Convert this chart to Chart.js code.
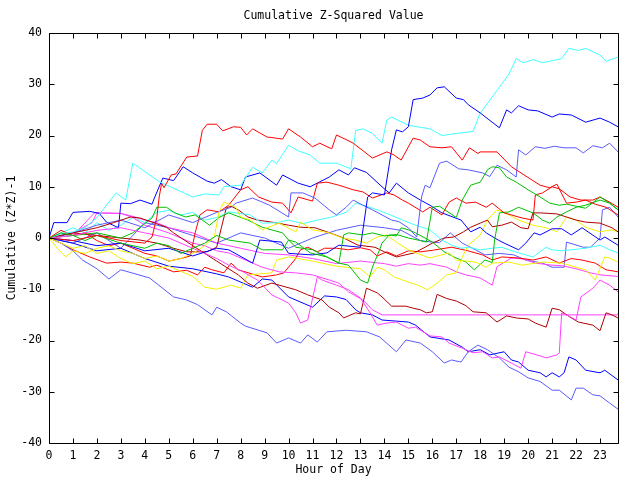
<!DOCTYPE html>
<html>
<head>
<meta charset="utf-8">
<title>Cumulative Z-Squared Value</title>
<script src="https://cdn.jsdelivr.net/npm/chart.js@4/dist/chart.umd.min.js"></script>
<style>
  html, body { margin: 0; padding: 0; background: #fff; }
  #wrap { width: 640px; height: 480px; }
</style>
</head>
<body>
<div id="wrap"><canvas id="chart" width="640" height="480"></canvas></div>
<script>
// Ejes
const hourTicks = [0,1,2,3,4,5,6,7,8,9,10,11,12,13,14,15,16,17,18,19,20,21,22,23];
const valueTicks = [-40,-30,-20,-10,0,10,20,30,40];

// Series: [hora, valor acumulado]
const cyanA = [[0,0],[0.5,0.8],[1,1.2],[1.5,2],[2,4],[2.8,8.8],[3.2,7.4],[3.5,14.6],[4.6,11],[5.3,9.5],[6,8],[6.5,8.6],[7.1,8.4],[7.3,10],[8,10.3],[8.5,13.8],[8.9,12.7],[9.3,15.2],[9.5,14.5],[10,18.1],[10.4,17],[10.9,16.2],[11.3,14.6],[12,14.6],[12.6,13.5],[12.8,21],[13.1,21.3],[13.5,20.4],[13.9,18.5],[14.1,23],[14.3,23.6],[15,22],[15.5,21.6],[15.9,21.3],[16.4,20],[17,20.4],[17.7,20.8],[18,24.4],[18.5,27.5],[19.2,32],[19.5,35],[19.8,34.2],[20.2,34.8],[20.6,34.2],[21,34.6],[21.4,35],[21.7,37],[22.1,36.6],[22.4,37],[23,35.7],[23.25,34.5],[23.75,35.3]];
const blueB = [[0,0],[1,-0.5],[2,-1.5],[3,-1],[4,-2.5],[5,-2],[6,-3.5],[7,-2],[7.5,-2.3],[8.5,-4.9],[8.8,-0.4],[9.7,-0.8],[10,-3],[11,-3.3],[11.6,-2.9],[12.1,-1.4],[13,-1.8],[13.3,8],[13.5,8.8],[14,8.4],[14.3,17.2],[14.5,21.1],[14.75,20.7],[15,21.7],[15.2,27],[15.6,27.3],[15.9,27.9],[16.2,29.3],[16.5,29.5],[17,27.3],[17.3,27],[17.5,26],[18,24.4],[18.8,21.5],[19.1,25],[19.3,24.4],[19.6,25.8],[20,25],[20.4,24.8],[21,23.6],[21.3,24.2],[21.8,24],[22.4,22.6],[23,23.4],[23.4,22.6],[23.75,21.7]];
const redC = [[0,0],[1,-0.5],[2,0.5],[3,-0.5],[4,-1],[4.3,0.2],[4.5,4],[4.6,8],[4.7,10.7],[4.8,9.8],[5.1,12.3],[5.3,12.5],[5.75,15.8],[6.2,16],[6.4,21],[6.6,22.2],[7,22.2],[7.25,20.9],[7.7,21.7],[8,21.6],[8.25,20.1],[8.5,21.3],[9.1,19.7],[9.3,19.6],[9.75,19.3],[10,21.3],[10.5,19.7],[11,17.8],[11.3,18.5],[11.8,17.4],[12,20.1],[12.4,19.2],[12.7,18.5],[13.5,15.6],[14.1,16.8],[14.4,16.2],[14.7,15.2],[15.2,19.5],[15.5,19.1],[15.9,17.8],[16.4,17.6],[16.8,17.8],[17.25,15.2],[17.55,17.6],[17.9,16.5],[18,16.8],[18.7,16.8],[19.3,13.9],[20.5,10.3],[20.9,9.8],[21.2,10.5],[21.6,6.8],[22,7],[22.4,7.4],[22.8,6.6],[23.25,6],[23.75,4.5]];
const blueD = [[0,0],[0.2,3],[0.75,3],[1,5],[1.7,5.2],[2.1,4.8],[2.4,3.1],[2.9,2],[3,6.8],[3.4,6.7],[3.8,7.4],[4.3,6.6],[4.4,7.8],[4.75,11.7],[5.2,11.2],[5.6,13.9],[6,12.7],[6.6,11.1],[6.9,10.7],[7.2,11.4],[7.6,10],[8,9.4],[8.2,11.9],[8.8,12.7],[9.5,10.3],[9.75,12.3],[10.4,10.7],[10.9,10],[11.7,11.9],[12.1,13.3],[12.5,12.3],[12.75,13.7],[13.25,12.8],[13.9,10],[14.2,8.8],[14.5,10.7],[15,8.8],[15.5,7.4],[15.9,6.4],[16.4,4.9],[17.2,3.5],[17.6,1.2],[18,2.1],[18.25,1],[18.75,-0.4],[19,-1],[19.6,-2.3],[19.9,-1],[20.25,1],[20.5,0.6],[21,1.8],[21.4,1.8],[21.8,0.6],[22.25,2],[23,-0.4],[23.2,0.2],[23.75,-1.4]];
const slateE = [[0,0],[1,1],[2,2.5],[3,3.5],[4,2],[5,4.5],[6,3],[7,5],[7.6,6],[7.8,6.8],[8.5,7.8],[9.2,6.4],[10,4.1],[10.1,8.8],[10.6,8.8],[11.1,7.8],[11.7,5.5],[12,4.5],[12.4,6],[12.7,7.4],[13.1,6.4],[13.5,5.5],[13.9,4.5],[14.3,3.5],[14.6,3.2],[15,2],[15.35,0.2],[15.55,8],[15.7,10.3],[15.9,9.8],[16.3,14.6],[16.6,15],[17.1,13.5],[17.5,13.3],[18.1,12.7],[18.4,12],[18.7,14.2],[19.1,13.3],[19.5,11.9],[19.6,17.2],[19.9,16.2],[20.3,17.8],[20.7,17.5],[21.1,17.9],[21.5,17.6],[22,17.6],[22.3,16.6],[22.7,18],[23.1,17.6],[23.4,18.5],[23.75,16.8]];
const slateF = [[0,0],[0.5,-1],[1,-2.5],[1.4,-4.3],[2,-6],[2.5,-8],[3,-6.2],[4.2,-7.8],[5.2,-11.5],[5.75,-12.1],[6.2,-13],[6.8,-15],[7,-13.5],[7.4,-14.4],[8,-16.6],[8.2,-17.2],[9.1,-18.5],[9.5,-20.5],[10,-19.5],[10.5,-20.5],[10.8,-18.9],[11.2,-20.3],[11.6,-18.3],[12.4,-18],[13.25,-18.3],[13.8,-19.3],[14.5,-22.2],[14.9,-19.9],[15.5,-20.5],[16,-22.2],[16.5,-24.4],[16.8,-23.8],[17.2,-24.2],[17.5,-22.2],[17.9,-20.9],[18.3,-21.8],[18.8,-23.4],[19.2,-25.2],[19.6,-26.1],[20,-27.3],[20.5,-28],[21,-29.7],[21.3,-29.7],[21.8,-31.6],[22,-29.3],[22.3,-29.3],[22.7,-30.6],[23,-30.8],[23.4,-32.2],[23.75,-33.4]];
const blueG = [[0,0],[1,-1],[2,-2.5],[3,-2],[4,-4],[5,-5.5],[6,-6],[7,-7],[7.5,-7.6],[8.5,-9.6],[8.9,-8],[9.3,-8.2],[10,-11.5],[11,-13.5],[11.5,-11.3],[12,-11.5],[12.4,-12],[12.8,-14],[13,-14.6],[13.5,-15],[13.9,-16],[15,-16.4],[15.3,-17],[15.9,-19.3],[16.7,-19.9],[17.25,-21.3],[17.5,-22.2],[18,-21.8],[18.4,-22.8],[19,-22.2],[19.3,-23.8],[19.6,-24.2],[20,-25.8],[20.5,-26.3],[20.75,-27.1],[21,-26.3],[21.3,-27.1],[21.5,-26.3],[21.7,-23.2],[22,-23.8],[22.4,-25.8],[23,-26.3],[23.2,-25.8],[23.75,-27.7]];
const magentaH = [[0,0],[1,0.5],[2,1.5],[3,2],[4,1],[5,0],[6,-2],[7,-4],[7.5,-5.3],[8.1,-6.6],[8.7,-8.2],[9.3,-11.1],[10,-12.7],[10.3,-14.6],[10.5,-16.6],[10.8,-16],[11.2,-7.6],[11.4,-8.2],[12,-9.2],[12.5,-10.1],[13,-11.7],[13.4,-14.6],[13.7,-17],[14.1,-16.6],[14.5,-16.4],[15,-17.6],[15.3,-17.4],[15.9,-19.1],[16.4,-19.3],[16.7,-20.5],[17.25,-21.5],[17.7,-22.4],[18.1,-22.2],[18.5,-23.4],[18.8,-23.2],[19.3,-24.4],[19.7,-25.4],[19.9,-22.2],[20.5,-23],[20.75,-23.4],[21.2,-22.8],[21.3,-22.4],[21.4,-14.6],[21.6,-15],[22,-16],[22.2,-11.5],[22.7,-9.8],[23,-8.2],[23.4,-9.2],[23.75,-10.5]];
const magentaI = [[0,0],[1,1],[1.8,3],[2,4.9],[3,4.8],[3.5,4],[4,2.5],[5,1],[6,-1],[6.5,-1.5],[7,-2.5],[7.5,-2.9],[8.9,-5.7],[9.6,-6.6],[10.3,-6.8],[11,-7.2],[11.7,-8.2],[12.1,-8.8],[12.5,-10.5],[13.1,-12.1],[13.5,-14],[13.9,-15],[15,-15],[16,-15],[17,-15],[18,-15],[19,-15],[20,-15],[21,-15],[22,-15],[23,-15],[23.75,-15]];
const darkredJ = [[0,0],[1,1],[2,2],[2.7,3],[3.4,4.1],[3.8,3.9],[4.3,3.1],[4.9,2.1],[5.2,1],[6,-1.5],[7,-4.5],[7.9,-7.2],[8.3,-8.8],[8.7,-9.8],[9.3,-8.8],[10.3,-10.1],[10.8,-11.1],[11.4,-12.1],[11.7,-13.5],[12.1,-14.6],[12.3,-15.6],[12.8,-14.6],[13,-14.8],[13.25,-9.8],[13.7,-10.7],[13.9,-11.5],[14.3,-13.3],[14.9,-13.3],[15.2,-13.7],[15.5,-14],[15.75,-14.6],[16,-14.4],[16.2,-11],[16.6,-11.8],[17,-12.3],[17.4,-13.2],[17.7,-14.4],[18.25,-14.6],[18.7,-16.4],[19.1,-15.2],[19.5,-15.6],[20,-15.8],[20.3,-16.6],[20.75,-17.4],[21,-13.7],[21.3,-14],[21.8,-15.6],[22.1,-16.4],[22.7,-17],[23,-18.1],[23.25,-14.6],[23.5,-15],[23.75,-15.6]];
const darkred2 = [[0,0],[1,1],[2,0.5],[3,0],[3.8,-0.4],[4.5,-1],[5.2,-2],[5.75,-2.7],[6.6,-2.7],[7,-1.8],[7.2,2.1],[7.4,5.9],[7.6,6.2],[7.9,5.5],[8.3,4.1],[8.7,3.5],[9.3,3.1],[10,2.5],[10.5,2.1],[11.1,2],[11.6,1.2],[12.3,0],[12.9,-1.4],[13.6,-1.8],[14,-2.7],[14.5,-3.7],[15.25,-2.9],[15.7,-1.8],[16,-1],[16.5,0],[16.9,0.2],[17.3,1.2],[17.6,2.1],[18,2.9],[18.3,3.5],[18.5,2.2],[18.9,2.5],[19.3,3.1],[19.7,2],[20,1.8],[20.2,4.9],[20.5,4.9],[21.2,4.7],[21.6,4.1],[22,3.5],[22.4,3.1],[23,2.9],[23.5,2],[23.75,1.2]];
const yellowY1 = [[0,0],[0.4,-2.3],[0.7,-3.7],[1,-2.5],[1.5,-3],[2,-2],[2.5,-1.5],[3,-2.5],[3.5,-3],[4,-4],[4.5,-3.5],[5,-4.5],[5.5,-4],[6,-3],[6.5,-1.5],[6.9,0.2],[7.1,5.1],[7.3,7],[7.8,6],[8,4.1],[8.4,3.5],[8.9,1.6],[9.6,2.9],[10.3,1.2],[10.5,3.1],[11,1.6],[11.7,1],[12.25,0],[12.8,-0.4],[13.25,-1],[13.7,0.2],[14.1,0.6],[14.5,-0.8],[15,-2.3],[15.3,-2.9],[15.9,-3.9],[16.7,-2.9],[17,-4.3],[17.8,-4.7],[18.25,-5.7],[18.5,-4.9],[19.2,-4.7],[19.75,-5.3],[20.6,-4.7],[21.4,-4.9],[22,-5.7],[22.4,-6.2],[22.8,-8.2],[23.2,-3.7],[23.4,-3.9],[23.75,-4.7]];
const yellowY2 = [[0,0],[0.5,-1],[1,-2],[1.5,-1.5],[2,-3],[2.5,-2.5],[3,-4],[3.5,-5],[4,-4.5],[4.5,-6],[5,-5.5],[5.5,-6.5],[6,-7.5],[6.5,-9.6],[7,-10],[7.6,-9.2],[8,-9.8],[8.3,-7.2],[9.3,-6.8],[9.5,-4.3],[10,-3.7],[11,-4.5],[12,-5.5],[13,-6],[13.4,-7.6],[13.7,-5.7],[14,-6.2],[14.4,-7.6],[15,-8.6],[15.4,-9.2],[15.8,-10.1],[16.2,-8.8],[16.6,-7.2],[17,-6.8],[17.25,-3.7],[17.5,-1.4],[18,0.6],[18.3,3.5],[18.7,5.5],[19.2,4.5],[19.6,3.5],[20.2,2.5],[20.75,2],[21.2,1.2],[21.6,4.1],[22,3.5],[22.4,2.1],[23,1.2],[23.5,1.6],[23.75,1.2]];
const redK = [[0,0],[0.5,1.5],[1,0.5],[1.5,1],[2,-0.5],[2.5,-1.5],[3,-1],[3.5,-2],[4,-3],[4.5,-3.5],[5,-4.5],[5.5,-4],[5.9,-3.5],[6.1,1],[6.3,4.5],[6.6,5.5],[7.1,5.1],[7.5,6.4],[8,9.4],[8.3,10],[8.75,8],[9.3,7],[9.75,6.8],[10.1,4.9],[10.4,8],[11,7.2],[11.2,10.7],[11.6,10.9],[12.1,10.3],[12.7,9.4],[13.1,9],[13.5,7.8],[14.1,8.8],[14.4,8.4],[14.75,7.4],[15,6.8],[15.6,5.1],[15.9,6],[16.4,4.5],[16.7,7],[17,7.8],[17.4,6.8],[17.8,7],[18.25,6],[18.5,6.8],[19,4.9],[19.3,4.5],[19.75,3.9],[20.2,3.5],[20.3,8.4],[20.6,8.8],[21,10],[21.3,9.6],[21.75,8],[22.2,7.4],[22.7,7.4],[23,8],[23.4,7],[23.75,6]];
const red3 = [[0,0],[0.5,-1],[1,-2.3],[1.7,-3.7],[2.4,-4.9],[3,-4.7],[3.5,-4.9],[4.2,-5.7],[4.5,-5.3],[5.2,-6.6],[5.75,-6.3],[6.2,-7.2],[6.5,-5.7],[6.8,-6.2],[7.3,-6.8],[7.6,-4.9],[7.9,-6.2],[8.6,-7.2],[8.9,-7.6],[9.5,-7.2],[9.8,-6.8],[10.25,-4.3],[10.5,-2.3],[10.8,-1.8],[11.2,-2.7],[11.5,-2],[12,-2],[12.5,-2.3],[13,-1.9],[13.4,-2.3],[13.7,-3.5],[14.1,-2.7],[14.5,-3.5],[15,-2.5],[15.5,-2.7],[16,-2.4],[16.8,-1.8],[17.4,-2.4],[18.1,-3.3],[18.5,-4.3],[18.9,-3.7],[19.6,-3.9],[20.2,-4.3],[20.75,-3.7],[21.3,-4.9],[21.8,-4],[22.25,-4.3],[22.8,-4.9],[23.25,-6.2],[23.75,-6.6]];
const greenL = [[0,0],[0.5,1],[1,0.5],[1.5,-0.5],[2,0.5],[3,-1],[4,-2],[4.5,-1],[5,-1.5],[5.5,-3],[6,-2],[6.5,-1],[7,0.5],[7.5,-0.4],[8.4,-1],[8.9,-2.3],[9.75,-2.3],[10,-0.4],[10.3,-0.8],[10.9,-2.9],[11.6,-3.7],[12.1,-4.9],[12.3,0.6],[12.5,1],[13.1,0.6],[13.5,1],[14,0.4],[14.5,0.7],[15,0],[15.5,-0.5],[15.75,-0.8],[16,6],[16.3,6.2],[17,4],[17.25,7.4],[17.6,10.3],[18,10.9],[18.3,13.3],[18.5,13.9],[18.8,13.7],[19.1,11.9],[19.5,10.9],[20,9.4],[20.5,8],[20.9,6.8],[21.3,6.4],[21.6,6.6],[22,6.2],[22.4,5.8],[23,8],[23.4,6.8],[23.75,5.5]];
const greenM = [[0,0],[1,0.5],[2,1],[3,0],[3.5,1],[4.3,3.9],[4.5,6],[4.9,6],[5.25,4.9],[5.7,4.1],[6.1,4.5],[6.7,2.5],[7.1,4],[7.5,4.9],[8.3,3.5],[8.9,2.1],[9.75,1],[10,-0.4],[10.3,-1.8],[11,-2.3],[11.6,-3.7],[12.1,-4.9],[12.5,-5.3],[13,-8.2],[13.3,-8.8],[13.5,-5.7],[13.8,-2.3],[13.9,-1],[14.2,0.6],[14.5,0.4],[14.7,2],[15,1.6],[15.3,1],[16,-0.8],[16.5,-2.7],[16.9,-3.7],[17.4,-4.7],[17.75,-6.2],[18.2,-4.3],[18.5,-4.8],[18.6,-0.4],[18.8,4.9],[19.2,5.1],[19.6,6],[20.2,4.9],[20.6,3.5],[20.9,2.9],[21.2,4.1],[21.6,5.1],[22,6],[22.4,6.4],[23,7.4],[23.4,6.8],[23.75,5.5]];
const cyanB = [[0,0],[0.5,1],[1,2],[1.5,1],[2,3],[2.5,1.5],[3,2.5],[3.5,4],[4,3],[4.5,5],[5,5.4],[5.5,4.5],[6,5],[6.5,3.5],[7,4],[7.5,5.1],[8.4,4.5],[8.9,2.9],[9.5,3],[10,3.5],[10.6,2.8],[11.2,3.5],[11.8,4.1],[12.4,5],[12.8,6.8],[13.2,6.3],[13.7,5.5],[14.25,4.5],[14.75,3.5],[15.3,2.5],[15.9,1.6],[16.4,-0.4],[16.8,-1.4],[17.2,-2],[17.5,-1.8],[18,-2.3],[18.5,-2],[18.9,-1.8],[19.2,-2.3],[19.6,-2.9],[20.2,-3.7],[20.75,-1.8],[21,-2.3],[21.4,-2.5],[21.8,-2.3],[22.4,-2],[23,-1.4],[23.4,-2.3],[23.75,-2.9]];
const magentaM = [[0,0],[1,0.5],[1.9,4.9],[3,4.8],[3.6,4.1],[4,3.5],[4.5,3],[5,2],[6,1],[7,-1],[8,-2],[9,-3],[10,-3.3],[11,-4],[12,-5],[13,-4.5],[14,-5],[14.5,-5.5],[15,-5],[15.5,-5.3],[15.9,-5],[16.6,-5.7],[17,-6.6],[17.4,-7.2],[18,-7.8],[18.5,-9.2],[18.7,-5.6],[19.3,-3.9],[19.8,-4.1],[20.3,-4.9],[21,-5.3],[21.4,-5.4],[22,-6],[22.6,-6.8],[23,-7.2],[23.75,-7.5]];
const slateS = [[0,0],[1,-1],[2,1],[3,-2],[4,3],[5,2],[6,0.5],[7,-1],[8,1],[9,0],[10,-2],[11,0],[12,1.5],[13,2.5],[14,2],[14.7,1.5],[15.5,-0.5],[16,-0.8],[16.3,-0.9],[16.75,1],[17.25,-1],[17.8,-2.3],[18.2,-3.3],[18.8,-3],[19.4,-3.3],[19.9,-4.3],[20.6,-4.9],[21,-5.7],[21.5,-5.7],[21.6,-0.8],[22.3,-1.8],[22.6,-1.8],[23,0],[23.1,5.5],[23.4,6],[23.75,4.1]];

// Colores de las curvas (paleta de gnuplot)
const RED = '#ff0000';
const GREEN = '#00c000';
const BLUE = '#0000ff';
const MAGENTA = '#ff40ff';
const CYAN = '#40ffff';
const DARKRED = '#b00000';
const YELLOW = '#f0f000';
const SLATE = '#5a5aff';

const series = [
  { name: 'run 1', color: RED, points: redC },
  { name: 'run 2', color: GREEN, points: greenL },
  { name: 'run 3', color: BLUE, points: blueB },
  { name: 'run 4', color: MAGENTA, points: magentaH },
  { name: 'run 5', color: CYAN, points: cyanA },
  { name: 'run 6', color: DARKRED, points: darkredJ },
  { name: 'run 7', color: YELLOW, points: yellowY1 },
  { name: 'run 8', color: SLATE, points: slateE },
  { name: 'run 9', color: RED, points: redK },
  { name: 'run 10', color: GREEN, points: greenM },
  { name: 'run 11', color: BLUE, points: blueD },
  { name: 'run 12', color: MAGENTA, points: magentaI },
  { name: 'run 13', color: CYAN, points: cyanB },
  { name: 'run 14', color: DARKRED, points: darkred2 },
  { name: 'run 15', color: YELLOW, points: yellowY2 },
  { name: 'run 16', color: SLATE, points: slateF },
  { name: 'run 17', color: RED, points: red3 },
  { name: 'run 18', color: BLUE, points: blueG },
  { name: 'run 19', color: MAGENTA, points: magentaM },
  { name: 'run 20', color: SLATE, points: slateS }
];

const FONT = { family: '"DejaVu Sans Mono", monospace', size: 11.5, lineHeight: 1.2, weight: 'normal' };

// Marco negro con marcas hacia adentro en los cuatro lados
const framePlugin = {
  id: 'frame',
  afterDatasetsDraw(chart) {
    const { ctx, chartArea: a, scales: { x, y } } = chart;
    const L = Math.round(a.left) + 0.5, R = Math.round(a.right) + 0.5;
    const T = Math.round(a.top) + 0.5, B = Math.round(a.bottom) + 0.5;
    const len = 5;
    ctx.save();
    ctx.strokeStyle = '#000';
    ctx.lineWidth = 1;
    ctx.beginPath();
    ctx.rect(L, T, R - L, B - T);
    hourTicks.forEach(v => {
      const px = Math.round(x.getPixelForValue(v)) + 0.5;
      ctx.moveTo(px, B); ctx.lineTo(px, B - len);
      ctx.moveTo(px, T); ctx.lineTo(px, T + len);
    });
    valueTicks.forEach(v => {
      const py = Math.round(y.getPixelForValue(v)) + 0.5;
      ctx.moveTo(L, py); ctx.lineTo(L + len, py);
      ctx.moveTo(R, py); ctx.lineTo(R - len, py);
    });
    ctx.stroke();
    ctx.restore();
  }
};

new Chart(document.getElementById('chart'), {
  type: 'line',
  data: {
    datasets: series.map(s => ({
      label: s.name,
      data: s.points.map(([h, v]) => ({ x: h, y: v })),
      borderColor: s.color,
      backgroundColor: s.color,
      borderWidth: 1,
      pointRadius: 0,
      tension: 0,
      fill: false
    }))
  },
  options: {
    responsive: false,
    animation: false,
    layout: { padding: { left: 0, right: 22, top: 0, bottom: 0 } },
    plugins: {
      legend: { display: false },
      tooltip: { enabled: false },
      title: {
        display: true,
        text: 'Cumulative Z-Squared Value',
        fullSize: false,
        color: '#000',
        font: FONT,
        padding: { top: 9, bottom: 10.2 }
      }
    },
    scales: {
      x: {
        type: 'linear',
        min: 0,
        max: 23.75,
        afterBuildTicks: scale => { scale.ticks = hourTicks.map(v => ({ value: v })); },
        afterFit: scale => { scale.height = 37; },
        grid: { display: false, drawTicks: false },
        border: { display: false },
        ticks: { color: '#000', font: FONT, padding: 6, maxRotation: 0, autoSkip: false },
        title: { display: true, text: 'Hour of Day', color: '#000', font: FONT, padding: { top: 0, bottom: 3 } }
      },
      y: {
        type: 'linear',
        min: -40,
        max: 40,
        afterBuildTicks: scale => { scale.ticks = valueTicks.map(v => ({ value: v })); },
        afterFit: scale => { scale.width = 49; },
        grid: { display: false, drawTicks: false },
        border: { display: false },
        ticks: { color: '#000', font: FONT, padding: 7 },
        title: { display: true, text: 'Cumulative (Z*Z)-1', color: '#000', font: FONT, padding: { top: 5, bottom: 0 } }
      }
    }
  },
  plugins: [framePlugin]
});
</script>
</body>
</html>
